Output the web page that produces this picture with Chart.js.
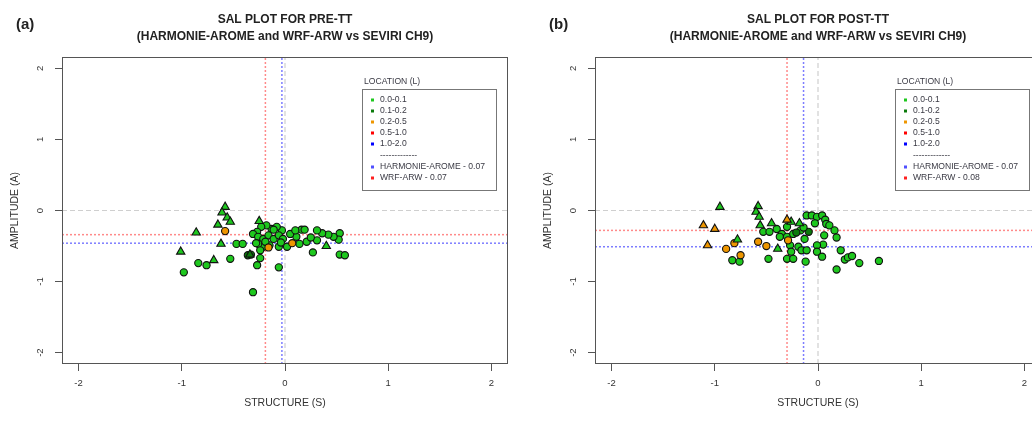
<!DOCTYPE html>
<html>
<head>
<meta charset="utf-8">
<title>SAL plots</title>
<script src="https://cdn.jsdelivr.net/npm/chart.js@4.4.1/dist/chart.umd.min.js"></script>
<style>
  html, body { margin: 0; padding: 0; background: #fff; overflow: hidden; }
  #wrap { position: relative; width: 1032px; height: 421px; overflow: hidden; }
  #wrap canvas { position: absolute; top: 0; }
</style>
</head>
<body>
<div id="wrap">
  <canvas id="preChart" width="516" height="421" style="left:0"></canvas>
  <canvas id="postChart" width="516" height="421" style="left:533px"></canvas>
</div>
<script>
// axis ticks and location bins
const tickVals = [-2, -1, 0, 1, 2];
const locBins = ['0.0-0.1', '0.1-0.2', '0.2-0.5', '0.5-1.0', '1.0-2.0'];
const locColors = ['#1ec81e', '#0a7a0a', '#ee9600', '#ff0000', '#0000ff'];
const models = ['HARMONIE-AROME', 'WRF-ARW'];
const modelColors = ['#5050ff', '#ff2020'];

// PRE-TT : model means and scores
const preMeanS = [-0.03, -0.19];
const preMeanA = [-0.46, -0.34];
const preScore = ['0.07', '0.07'];

// PRE-TT : circle cases (S, A, location bin index)
const preCircS = [-0.98, -0.84, -0.76, -0.53, -0.47, -0.41, -0.31, -0.27, -0.24, -0.06,
  0.27, 0.53, 0.58, 0.53, 0.52, 0.47, 0.42, 0.36, 0.31, 0.31,
  0.21, 0.14, 0.02, 0.11, 0.16, 0.19, 0.05, -0.03, -0.08, -0.13,
  -0.18, -0.23, -0.27, -0.31, -0.26, -0.21, -0.16, -0.11, -0.06, -0.02,
  -0.06, -0.15, -0.21, -0.26, -0.24, -0.19, -0.11, 0.10, -0.36, -0.33,
  -0.28, -0.04, 0.25, -0.58, -0.16, 0.07];
const preCircA = [-0.87, -0.74, -0.77, -0.68, -0.47, -0.47, -1.15, -0.77, -0.67, -0.80,
  -0.59, -0.62, -0.63, -0.32, -0.41, -0.37, -0.34, -0.32, -0.28, -0.42,
  -0.44, -0.47, -0.51, -0.37, -0.27, -0.27, -0.33, -0.28, -0.23, -0.26,
  -0.21, -0.23, -0.30, -0.33, -0.37, -0.40, -0.35, -0.40, -0.35, -0.40,
  -0.51, -0.49, -0.51, -0.47, -0.56, -0.44, -0.27, -0.28, -0.63, -0.62,
  -0.46, -0.45, -0.38, -0.29, -0.52, -0.46];
const preCircL = [0, 0, 0, 0, 0, 0, 0, 0, 0, 0,
  0, 0, 0, 0, 0, 0, 0, 0, 0, 0,
  0, 0, 0, 0, 0, 0, 0, 0, 0, 0,
  0, 0, 0, 0, 0, 0, 0, 0, 0, 0,
  0, 0, 0, 0, 0, 0, 0, 0, 1, 1,
  0, 0, 0, 2, 2, 2];

// PRE-TT : triangle cases
const preTriS = [-0.58, -0.61, -0.56, -0.53, -0.65, -0.86, -0.62, -1.01, -0.69, 0.40, -0.25, -0.34];
const preTriA = [0.05, -0.03, -0.10, -0.16, -0.20, -0.31, -0.47, -0.58, -0.70, -0.50, -0.15, -0.62];
const preTriL = [0, 0, 0, 0, 0, 0, 0, 0, 0, 0, 0, 1];

// POST-TT : model means and scores
const postMeanS = [-0.14, -0.30];
const postMeanA = [-0.51, -0.28];
const postScore = ['0.07', '0.08'];

// POST-TT : circle cases
const postCircS = [-0.83, -0.76, -0.48, -0.53, -0.47, -0.40, -0.35, -0.30, -0.24, -0.17,
  -0.30, -0.37, -0.27, -0.26, -0.30, -0.24, -0.19, -0.16, -0.12, -0.13,
  -0.11, -0.06, -0.01, 0.04, -0.03, 0.07, 0.08, 0.11, 0.16, 0.18,
  0.06, 0.05, -0.01, -0.01, 0.04, -0.11, 0.22, 0.26, 0.29, 0.33,
  0.40, 0.18, 0.59, -0.21, -0.09, -0.14, -0.89, -0.75, -0.81, -0.58,
  -0.50, -0.29];
const postCircA = [-0.70, -0.72, -0.68, -0.30, -0.30, -0.26, -0.33, -0.37, -0.33, -0.28,
  -0.23, -0.37, -0.49, -0.58, -0.68, -0.68, -0.51, -0.56, -0.72, -0.40,
  -0.07, -0.07, -0.09, -0.07, -0.18, -0.13, -0.19, -0.21, -0.28, -0.38,
  -0.35, -0.48, -0.49, -0.58, -0.65, -0.56, -0.56, -0.69, -0.66, -0.64,
  -0.74, -0.83, -0.71, -0.31, -0.30, -0.24, -0.54, -0.63, -0.46, -0.44,
  -0.50, -0.42];
const postCircL = [0, 0, 0, 0, 0, 0, 0, 0, 0, 0,
  0, 0, 0, 0, 0, 0, 0, 0, 0, 0,
  0, 0, 0, 0, 0, 0, 0, 0, 0, 0,
  0, 0, 0, 0, 0, 0, 0, 0, 0, 0,
  0, 0, 0, 1, 1, 0, 2, 2, 2, 2,
  2, 2];

// POST-TT : triangle cases
const postTriS = [-0.95, -0.58, -0.60, -0.57, -0.56, -0.45, -0.39, -0.78, -0.26, -0.18, -1.11, -1.00, -1.07, -0.30];
const postTriA = [0.05, 0.06, -0.02, -0.09, -0.21, -0.18, -0.54, -0.41, -0.16, -0.18, -0.21, -0.26, -0.49, -0.13];
const postTriL = [0, 0, 0, 0, 0, 0, 0, 0, 0, 0, 2, 2, 2, 2];

const AX_MIN = -2.16, AX_MAX = 2.16;
const FONT = "'Liberation Sans', Arial, Helvetica, sans-serif";
Chart.defaults.font.family = FONT;

// frame, rotated y labels, titles and the location legend
const salDecor = {
  id: 'salDecor',
  afterDraw(chart, args, opts) {
    const { ctx, chartArea: ca, scales: { y } } = chart;
    ctx.save();
    ctx.strokeStyle = '#555';
    ctx.lineWidth = 1;
    ctx.strokeRect(Math.round(ca.left) + 0.5, Math.round(ca.top) + 0.5,
      Math.round(ca.width) - 1, Math.round(ca.height) - 1);

    ctx.fillStyle = '#333';
    ctx.font = '9.5px ' + FONT;
    ctx.textAlign = 'center';
    ctx.textBaseline = 'middle';
    tickVals.forEach(v => {
      ctx.save();
      ctx.translate(ca.left - 22, y.getPixelForValue(v));
      ctx.rotate(-Math.PI / 2);
      ctx.fillText(String(v), 0, 0);
      ctx.restore();
    });

    const cx = (ca.left + ca.right) / 2;
    ctx.fillStyle = '#222';
    ctx.font = 'bold 12px ' + FONT;
    ctx.fillText(opts.title[0], cx, 20);
    ctx.fillText(opts.title[1], cx, 37);
    ctx.textAlign = 'left';
    ctx.font = 'bold 15px ' + FONT;
    ctx.fillText(opts.tag, 16, 25);

    // legend
    const L = Math.round(ca.right) - 146, T = Math.round(ca.top);
    ctx.font = '8.6px ' + FONT;
    ctx.fillStyle = '#3a3a44';
    ctx.fillText('LOCATION (L)', L + 2, T + 25);
    ctx.strokeStyle = '#777';
    ctx.strokeRect(L + 0.5, T + 32.5, 134, 101);
    const rowY = [43, 54, 65, 76, 87];
    locBins.forEach((b, i) => {
      ctx.fillStyle = locColors[i];
      ctx.fillRect(L + 9, T + rowY[i] - 1.5, 3, 3);
      ctx.fillStyle = '#3a3a44';
      ctx.fillText(b, L + 18, T + rowY[i]);
    });
    ctx.fillText('-------------', L + 18, T + 99);
    models.forEach((m, i) => {
      const yy = T + 110 + i * 11;
      ctx.fillStyle = modelColors[i];
      ctx.fillRect(L + 9, yy - 1.5, 3, 3);
      ctx.fillStyle = '#3a3a44';
      ctx.fillText(m + ' - ' + opts.scores[i], L + 18, yy);
    });
    ctx.restore();
  }
};

function axisOpts(titleText, isX) {
  return {
    type: 'linear',
    position: isX ? 'bottom' : 'left',
    min: AX_MIN,
    max: AX_MAX,
    afterBuildTicks: s => { s.ticks = tickVals.map(v => ({ value: v })); },
    afterFit: s => { if (isX) s.height = 57; else s.width = 62; },
    grid: { drawOnChartArea: false, drawTicks: true, tickLength: 7, tickColor: '#555', color: '#555' },
    border: { display: false },
    ticks: { display: isX, font: { size: 9.5 }, color: '#333', padding: 7, maxRotation: 0 },
    title: {
      display: true, text: titleText, color: '#333', font: { size: 10.5 },
      padding: isX ? { top: 0, bottom: 11.5 } : { top: 8.7, bottom: 0 }
    }
  };
}

function buildChart(id, p) {
  const pts = (S, A) => S.map((s, i) => ({ x: s, y: A[i] }));
  const vLine = v => [{ x: v, y: AX_MIN }, { x: v, y: AX_MAX }];
  const hLine = v => [{ x: AX_MIN, y: v }, { x: AX_MAX, y: v }];
  const ref = (data, color, dash, w) => ({
    data, showLine: true, fill: false, pointRadius: 0, borderColor: color,
    borderWidth: w, borderDash: dash, order: 3
  });
  const meanColors = ['rgba(70,70,255,0.7)', 'rgba(255,60,60,0.6)'];

  const datasets = [ref(vLine(0), '#cfcfcf', [5, 3], 1.2), ref(hLine(0), '#cfcfcf', [5, 3], 1.2)];
  models.forEach((m, i) => {
    datasets.push(ref(vLine(p.meanS[i]), meanColors[i], [2, 2], 1.5));
    datasets.push(ref(hLine(p.meanA[i]), meanColors[i], [2, 2], 1.5));
  });
  datasets.push({
    data: pts(p.circS, p.circA), pointStyle: 'circle', pointRadius: 3.6,
    pointBackgroundColor: p.circL.map(k => locColors[k]),
    pointBorderColor: '#111', pointBorderWidth: 1.1, order: 2
  });
  datasets.push({
    data: pts(p.triS, p.triA), pointStyle: 'triangle', pointRadius: 4.8,
    pointBackgroundColor: p.triL.map(k => locColors[k]),
    pointBorderColor: '#111', pointBorderWidth: 1.1, order: 1
  });

  return new Chart(document.getElementById(id), {
    type: 'scatter',
    data: { datasets },
    options: {
      responsive: false,
      animation: false,
      devicePixelRatio: 1,
      events: [],
      layout: { padding: { left: 0, right: 8, top: 57, bottom: 0 } },
      scales: { x: axisOpts('STRUCTURE (S)', true), y: axisOpts('AMPLITUDE (A)', false) },
      plugins: {
        legend: { display: false },
        tooltip: { enabled: false },
        salDecor: { tag: p.tag, title: p.title, scores: p.scores }
      }
    },
    plugins: [salDecor]
  });
}

buildChart('preChart', {
  tag: '(a)',
  title: ['SAL PLOT FOR PRE-TT', '(HARMONIE-AROME and WRF-ARW vs SEVIRI CH9)'],
  scores: preScore, meanS: preMeanS, meanA: preMeanA,
  circS: preCircS, circA: preCircA, circL: preCircL,
  triS: preTriS, triA: preTriA, triL: preTriL
});

buildChart('postChart', {
  tag: '(b)',
  title: ['SAL PLOT FOR POST-TT', '(HARMONIE-AROME and WRF-ARW vs SEVIRI CH9)'],
  scores: postScore, meanS: postMeanS, meanA: postMeanA,
  circS: postCircS, circA: postCircA, circL: postCircL,
  triS: postTriS, triA: postTriA, triL: postTriL
});
</script>
</body>
</html>
